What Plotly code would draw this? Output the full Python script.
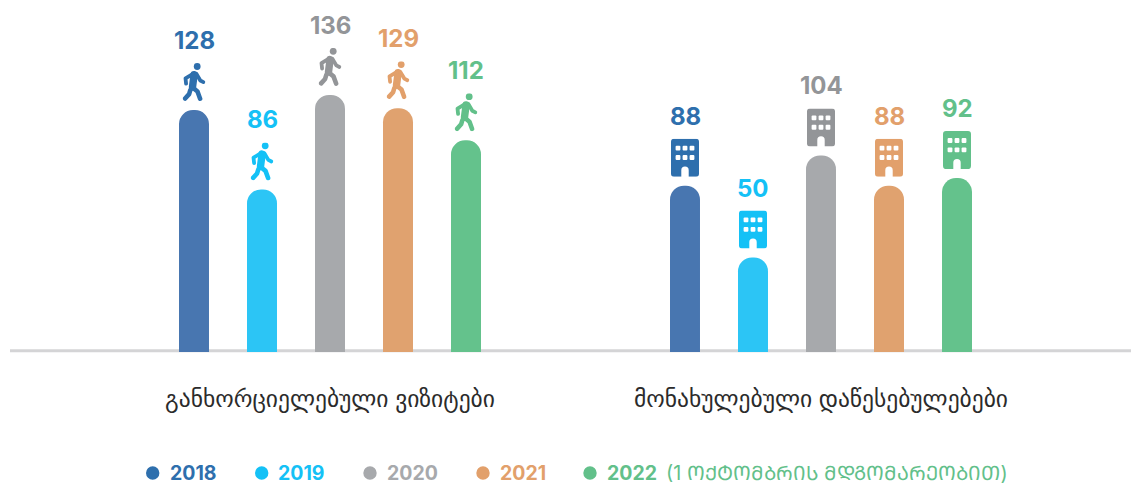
import base64
import plotly.graph_objects as go

categories = ["განხორციელებული ვიზიტები", "მონახულებული დაწესებულებები"]
years = ["2018", "2019", "2020", "2021", "2022"]
visits = [128, 86, 136, 129, 112]
institutions = [88, 50, 104, 88, 92]
bar_colors = ["#4876b0", "#2cc5f5", "#a7a9ac", "#e0a26f", "#64c28c"]
text_colors = ["#2e6fad", "#14c1f6", "#939598", "#e2a06b", "#62c08a"]
legend_colors = ["#2e6fad", "#14c1f6", "#a7a9ac", "#e2a06b", "#62c08a"]
legend_note = "(1 ᲝᲥᲢᲝᲛᲑᲠᲘᲡ ᲛᲓᲒᲝᲛᲐᲠᲔᲝᲑᲘᲗ)"
legend_dot_px = [152.7, 261.7, 370, 483, 590]
legend_text_px = [170.5, 279, 388, 500.5, 607.5]
legend_note_px = 666.5

FONT = "Inter, 'DejaVu Sans', sans-serif"
W, H = 1131, 484
LEFT = 10
PLOT_H = 352
PX_PER_UNIT = 1.89
GROUP_PX = 491
SLOT = 68 / GROUP_PX
LEGEND_Y = (PLOT_H - 473) / PLOT_H


def px_x(px):
    return (px - LEFT) / (W - LEFT)


def walker(c):
    svg = (
        f'<svg xmlns="http://www.w3.org/2000/svg" width="92" height="152" viewBox="0 0 23 38">'
        f'<circle cx="14.7" cy="3.4" r="3.4" fill="{c}"/>'
        f'<g fill="none" stroke="{c}" stroke-linecap="round" stroke-linejoin="round">'
        f'<path d="M11.6 11.6 L10 24" stroke-width="7.4"/>'
        f'<path d="M14 11 L17.8 17.4 L20.9 19" stroke-width="3.8"/>'
        f'<path d="M10 11 L3 15.2 L3.6 20.6" stroke-width="3.8"/>'
        f'<path d="M9.6 24 L15 28.4 L17.6 35.6" stroke-width="4.6"/>'
        f'<path d="M7.8 27 L6.6 31 L2.6 35.4" stroke-width="4.6"/>'
        f'</g></svg>'
    )
    return "data:image/svg+xml;base64," + base64.b64encode(svg.encode()).decode()


def building(c):
    windows = ""
    for y in (7, 16.4):
        for x in (4.6, 11.6, 18.6):
            windows += (
                f'<rect x="{x}" y="{y}" width="4.8" height="4.8" rx="1" fill="white"/>'
            )
    shell = "M3 0H25A3 3 0 0 1 28 3V35A3 3 0 0 1 25 38H17.7V31.6A3.7 3.7 0 0 0 10.3 31.6V38H3A3 3 0 0 1 0 35V3A3 3 0 0 1 3 0Z"
    svg = (
        f'<svg xmlns="http://www.w3.org/2000/svg" width="112" height="152" viewBox="0 0 28 38">'
        f'<path fill="{c}" d="{shell}"/>{windows}</svg>'
    )
    return "data:image/svg+xml;base64," + base64.b64encode(svg.encode()).decode()


fig = go.Figure()
images, annotations, shapes = [], [], []
shapes.append(dict(
    type="line", xref="paper", yref="paper", x0=0, x1=1, y0=1.2 / PLOT_H, y1=1.2 / PLOT_H,
    line=dict(color="#d4d4d6", width=3), layer="below",
))
for i, year in enumerate(years):
    vals = [visits[i], institutions[i]]
    fig.add_bar(
        x=categories, y=vals, name=year, showlegend=False,
        marker=dict(color=bar_colors[i], cornerradius=15, line_width=0),
    )
    shapes.append(dict(
        type="circle", xref="paper", yref="paper", xsizemode="pixel", ysizemode="pixel",
        xanchor=px_x(legend_dot_px[i]), yanchor=LEGEND_Y, x0=-6.7, x1=6.7, y0=-6.7, y1=6.7,
        fillcolor=legend_colors[i], line_width=0,
    ))
    annotations.append(dict(
        x=px_x(legend_text_px[i]), y=LEGEND_Y, xref="paper", yref="paper", xanchor="left", yanchor="middle",
        text=f"<b>{year}</b>", showarrow=False, xshift=-3,
        font=dict(family=FONT, size=19.5, color=legend_colors[i]),
    ))
    for g, v in enumerate(vals):
        xpos = g + (i - 2) * SLOT
        annotations.append(dict(
            x=xpos, y=v, xref="x", yref="y", text=f"<b>{v}</b>", showarrow=False, yanchor="middle",
            yshift=69.5, font=dict(family=FONT, size=24, color=text_colors[i]),
        ))
        is_walker = g == 0
        images.append(dict(
            source=walker(text_colors[i]) if is_walker else building(text_colors[i]),
            x=xpos, y=v + 9 / PX_PER_UNIT, xref="x", yref="y",
            sizex=(23 if is_walker else 28) / GROUP_PX, sizey=38 / PX_PER_UNIT,
            xanchor="center", yanchor="bottom", layer="above", sizing="stretch",
        ))

annotations.append(dict(
    x=px_x(legend_note_px), y=LEGEND_Y, xref="paper", yref="paper", xanchor="left", yanchor="middle",
    text=legend_note, showarrow=False, xshift=-3,
    font=dict(family=FONT, size=19.8, color=legend_colors[4]),
))

fig.update_layout(
    width=W, height=H, autosize=False,
    margin=dict(l=LEFT, r=0, t=0, b=H - PLOT_H, pad=0),
    paper_bgcolor="white", plot_bgcolor="white",
    barmode="group", bargap=0.3075, bargroupgap=0.559,
    images=images, annotations=annotations, shapes=shapes,
    hovermode=False, showlegend=False,
    font=dict(family=FONT),
)
fig.update_xaxes(
    type="category", range=[(LEFT - 330) / GROUP_PX, (W - 330) / GROUP_PX],
    showgrid=False, showline=False, ticks="",
    tickfont=dict(family=FONT, size=23.5, color="#2b2b2b"), ticklabelstandoff=30,
)
fig.update_yaxes(range=[0, PLOT_H / PX_PER_UNIT], visible=False, showgrid=False, zeroline=False)
fig.write_html(
    "out.html", config=dict(displayModeBar=False),
    post_script="document.body.style.margin='0';",
)
